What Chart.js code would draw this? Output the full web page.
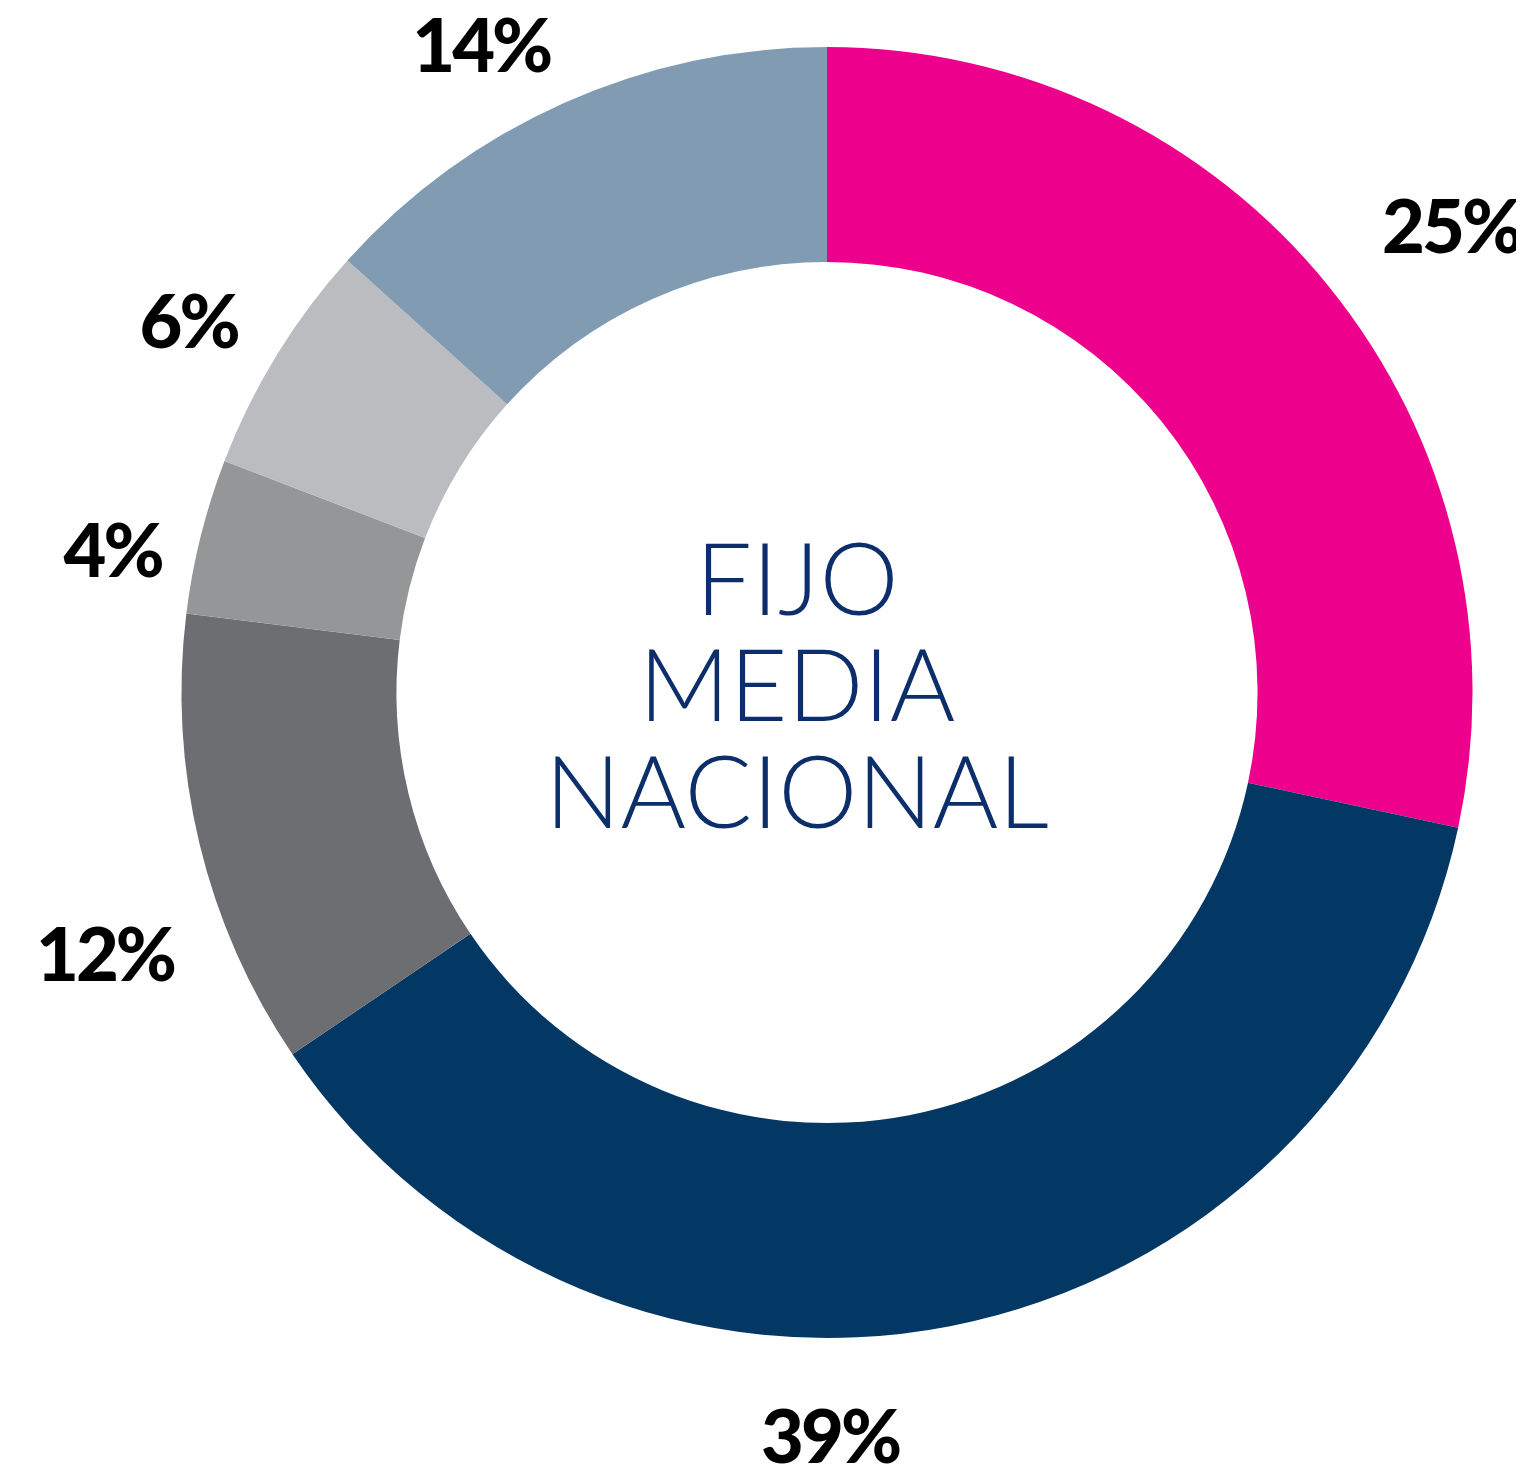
<!DOCTYPE html>
<html>
<head>
<meta charset="utf-8">
<script src="https://cdn.jsdelivr.net/npm/chart.js@4.4.1/dist/chart.umd.min.js"></script>
<style>
  html, body { margin: 0; padding: 0; background: #fff; }
  #wrap { width: 1516px; height: 1476px; }
</style>
</head>
<body>
<div id="wrap"><canvas id="c" width="1516" height="1476"></canvas></div>
<script>
// slice shares as drawn in the picture (sum 100)
const categories = ['A', 'B', 'C', 'D', 'E', 'F']
const shares = [28.36, 37.17, 11.42, 3.89, 5.83, 13.33]
// printed labels
const pctLabels = ['25%', '39%', '12%', '4%', '6%', '14%']
const colors = ['#ec008c', '#043864', '#6d6e72', '#959698', '#bbbcc0', '#819cb2']
const centerLines = ['FIJO', 'MEDIA', 'NACIONAL']

// small pixel nudges so the labels sit where the original put them
const labelNudge = [[49, -1], [-138, 18], [-3, 89], [3, 37], [-8, 15], [-45, 28]]

const outsideLabels = {
    id: 'outsideLabels',
    afterDatasetsDraw(chart) {
        const ctx = chart.ctx
        const arcs = chart.getDatasetMeta(0).data
        const size = 74
        ctx.save()
        ctx.font = '900 ' + size + 'px Lato'
        ctx.fillStyle = '#000'
        ctx.textAlign = 'center'
        ctx.textBaseline = 'alphabetic'
        if ('letterSpacing' in ctx) ctx.letterSpacing = '-3px'
        arcs.forEach((arc, i) => {
            const p = arc.getProps(['x', 'y', 'startAngle', 'endAngle', 'outerRadius'], true)
            const mid = (p.startAngle + p.endAngle) / 2
            const r = p.outerRadius + 94
            const x = p.x + Math.cos(mid) * r + labelNudge[i][0]
            const y = p.y + Math.sin(mid) * r + labelNudge[i][1]
            ctx.fillText(pctLabels[i], x, y + size * 0.36)
        })
        ctx.restore()

        // centre title
        const a = arcs[0]
        ctx.save()
        ctx.font = '300 100px Lato'
        ctx.fillStyle = '#0c2f6b'
        ctx.textAlign = 'center'
        ctx.textBaseline = 'alphabetic'
        centerLines.forEach((t, i) => {
            ctx.fillText(t, a.x - 30, a.y - 78 + i * 106.5)
        })
        ctx.restore()
    }
}

new Chart(document.getElementById('c').getContext('2d'), {
    type: 'doughnut',
    data: {
        labels: categories,
        datasets: [{
            data: shares,
            backgroundColor: colors,
            borderWidth: 0,
            hoverOffset: 0
        }]
    },
    options: {
        responsive: false,
        animation: false,
        cutout: '66.7%',
        layout: { padding: { top: 47, bottom: 138, left: 181, right: 43 } },
        plugins: {
            legend: { display: false },
            tooltip: { enabled: false }
        }
    },
    plugins: [outsideLabels]
})
</script>
</body>
</html>
